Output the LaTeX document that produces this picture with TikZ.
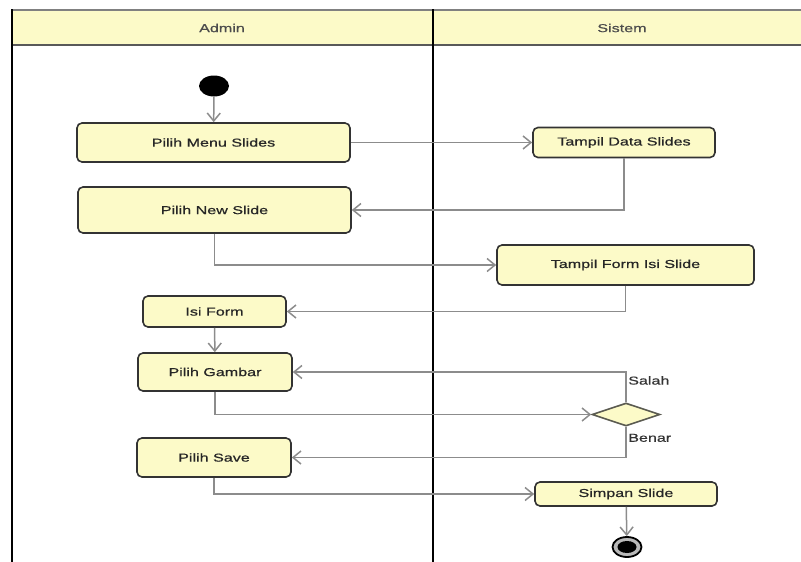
\documentclass[tikz,border=0pt]{standalone}
\usepackage{fontspec}
\setmainfont{Liberation Sans}[FakeStretch=1.4,FakeBold=0.6]
\usetikzlibrary{arrows.meta,shapes.geometric}
\definecolor{umlfill}{RGB}{252,250,200}
\definecolor{umledge}{RGB}{51,51,51}
\definecolor{flowgray}{RGB}{140,140,140}

\begin{document}
\begin{tikzpicture}[x=1pt,y=-1pt,
    font=\fontsize{11.5}{13}\selectfont,
    action/.style={draw=umledge,line width=1.6pt,fill=umlfill,rounded corners=5pt,inner sep=0pt,text=black!85},
    flow/.style={draw=flowgray,line width=1.5pt,-{Straight Barb[length=8pt,width=13pt]}},
    guard/.style={text=black!80,inner sep=1.5pt}]
  \useasboundingbox (0,0) rectangle (801,562);
  % swimlanes
  \fill[umlfill] (12,10) rectangle (801,45);
  \draw[gray,line width=2.5pt] (12,10) -- (801,10);
  \draw[gray!70!black,line width=2pt] (12,45) -- (801,45);
  \draw[black,line width=2pt] (12,9) -- (12,562);
  \draw[black,line width=2.2pt] (433,9) -- (433,562);
  \node[text=black!70] (admin) at (222,28) {Admin};
  \node[text=black!70] (sistem) at (622,28) {Sistem};
  % actions
  \node[ellipse,fill=black,minimum width=30pt,minimum height=21pt,inner sep=0pt] (start) at (214,86) {};
  \node[action,minimum width=273pt,minimum height=39pt] (menu) at (213.5,142.5) {Pilih Menu Slides};
  \node[action,minimum width=182pt,minimum height=30pt] (tdata) at (624,142.5) {Tampil Data Slides};
  \node[action,minimum width=273pt,minimum height=46pt] (newslide) at (214.5,210) {Pilih New Slide};
  \node[action,minimum width=257pt,minimum height=40pt] (tform) at (625.5,265) {Tampil Form Isi Slide};
  \node[action,minimum width=143pt,minimum height=31pt] (isiform) at (214.5,311.5) {Isi Form};
  \node[action,minimum width=154pt,minimum height=38pt] (gambar) at (215,372) {Pilih Gambar};
  \node[diamond,draw=umledge!80!umlfill,line width=1.6pt,fill=umlfill,aspect=2.9,minimum width=68pt,minimum height=23pt,inner sep=0pt] (dec) at (626,414.5) {};
  \node[action,minimum width=154pt,minimum height=39pt] (save) at (214,457.5) {Pilih Save};
  \node[action,minimum width=182pt,minimum height=24pt] (simpan) at (626,494) {Simpan Slide};
  \node[ellipse,draw=black,line width=1.8pt,fill=gray!55,minimum width=29pt,minimum height=20pt,inner sep=0pt] (final) at (627,547) {};
  \node[ellipse,fill=black,minimum width=19pt,minimum height=12pt,inner sep=0pt] (finaldot) at (final.center) {};
  % transitions
  \draw[flow] (start) -- (menu);
  \draw[flow] (menu) -- (tdata);
  \draw[flow] (tdata.south) |- (newslide.east);
  \draw[flow] (newslide.south) |- (tform.west);
  \draw[flow] (tform.south) |- (isiform.east);
  \draw[flow] (isiform) -- (gambar);
  \draw[flow] (gambar.south) |- (dec.west);
  \draw[flow] (dec.north) |- node[guard,pos=0.36,right] {Salah} (gambar.east);
  \draw[flow] (dec.south) |- node[guard,pos=0.18,right] {Benar} (save.east);
  \draw[flow] (save.south) |- (simpan.west);
  \draw[flow] (simpan) -- (final);
\end{tikzpicture}
\end{document}
